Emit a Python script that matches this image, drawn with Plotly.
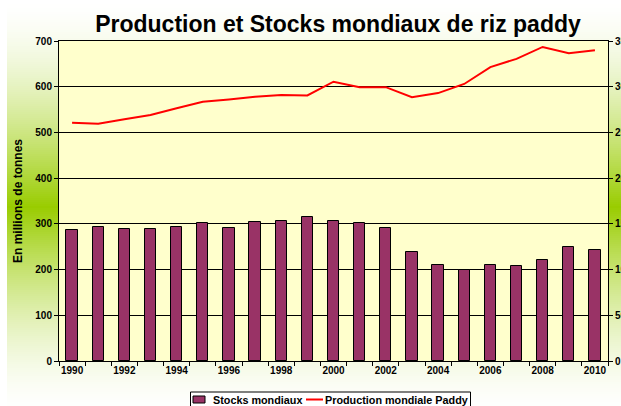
import plotly.graph_objects as go

years = list(range(1990, 2011))
stocks = [143.5, 147, 144.5, 144, 147, 151, 145, 152, 153.5, 158, 153.5,
          151, 145, 119, 105.5, 100, 105, 104, 111, 125, 121.5]
production = [521, 519, 529, 538, 553, 567, 572, 578, 582, 581, 611,
              599, 599, 577, 586, 606, 643, 661, 687, 673, 680]
x_tick_labels = ["1990", "1992", "1994", "1996", "1998", "2000",
                 "2002", "2004", "2006", "2008", "2010"]
x_tick_vals = [int(s) for s in x_tick_labels]
series_names = ["Stocks mondiaux", "Production mondiale Paddy"]

W, H = 621, 406
L, R, T, B = 59, 13, 41, 45
pw, ph = W - L - R, H - T - B

def px_to_paper_x(px):
    return (px - L) / pw

def px_to_paper_y(py):
    return (H - B - py) / ph

FONT = "Liberation Sans, Arial, sans-serif"
BAR_COLOR = "#993366"
LINE_COLOR = "#FF0000"

fig = go.Figure()
fig.add_trace(go.Bar(
    x=years, y=stocks, name=series_names[0], yaxis="y2",
    width=0.43, marker=dict(color=BAR_COLOR, line=dict(color="black", width=1)),
))
fig.add_trace(go.Scatter(
    x=years, y=production, name=series_names[1], yaxis="y",
    mode="lines", line=dict(color=LINE_COLOR, width=2),
))

# background gradient (white - green - white, vertical)
shapes = []
green = (153, 204, 0)
peak = 207.0
step = 2
for y0 in range(0, H, step):
    yc = y0 + step / 2
    t = max(0.0, 1 - abs(yc - peak) / peak)
    f = t ** 1.6
    c = tuple(int(round(255 * (1 - f) + g * f)) for g in green)
    shapes.append(dict(
        type="rect", xref="paper", yref="paper", layer="below",
        x0=px_to_paper_x(7), x1=px_to_paper_x(W + 2),
        y0=px_to_paper_y(y0 + step), y1=px_to_paper_y(y0),
        line=dict(width=0), fillcolor="rgb(%d,%d,%d)" % c,
    ))
shapes.append(dict(
    type="rect", xref="paper", yref="paper", layer="below",
    x0=0, x1=1, y0=0, y1=1, line=dict(width=0), fillcolor="#FFFFCC",
))

# legend drawn by hand (box, symbols)
shapes.append(dict(
    type="rect", xref="paper", yref="paper", layer="above",
    x0=px_to_paper_x(190.5), x1=px_to_paper_x(470.5),
    y0=px_to_paper_y(412), y1=px_to_paper_y(392),
    line=dict(color="black", width=1), fillcolor="white",
))
shapes.append(dict(
    type="rect", xref="paper", yref="paper", layer="above",
    x0=px_to_paper_x(193), x1=px_to_paper_x(205),
    y0=px_to_paper_y(403), y1=px_to_paper_y(396),
    line=dict(color="black", width=1), fillcolor=BAR_COLOR,
))
shapes.append(dict(
    type="line", xref="paper", yref="paper", layer="above",
    x0=px_to_paper_x(306), x1=px_to_paper_x(323),
    y0=px_to_paper_y(399.5), y1=px_to_paper_y(399.5),
    line=dict(color=LINE_COLOR, width=2),
))
legend_font = dict(family=FONT, size=10.8, color="black", weight="bold")
annotations = [
    dict(text=series_names[0], xref="paper", yref="paper",
         x=px_to_paper_x(211), y=px_to_paper_y(400), xanchor="left",
         yanchor="middle", showarrow=False, font=legend_font),
    dict(text=series_names[1], xref="paper", yref="paper",
         x=px_to_paper_x(323), y=px_to_paper_y(400), xanchor="left",
         yanchor="middle", showarrow=False, font=legend_font),
]

tickfont = dict(family=FONT, size=10, color="black", weight="bold")

fig.update_layout(
    width=W, height=H,
    margin=dict(l=L, r=R, t=T, b=B, autoexpand=False),
    paper_bgcolor="white",
    plot_bgcolor="rgba(0,0,0,0)",
    shapes=shapes,
    annotations=annotations,
    showlegend=False,
    title=dict(
        text="Production et Stocks mondiaux de riz paddy",
        font=dict(family=FONT, size=23, color="black", weight="bold"),
        x=338 / W, xanchor="center", y=1 - 24 / H, yanchor="middle",
    ),
    xaxis=dict(
        range=[1989.5, 2010.5], tickvals=x_tick_vals, ticktext=x_tick_labels,
        ticks="", showgrid=False, zeroline=False,
        showline=True, linecolor="black", linewidth=1, mirror=True,
        tickfont=tickfont,
        minor=dict(tick0=1989.5, dtick=1, ticks="outside", ticklen=4,
                   tickcolor="black", showgrid=False),
    ),
    yaxis=dict(
        range=[0, 700], dtick=100, ticks="outside", ticklen=4, tickcolor="black",
        showgrid=True, gridcolor="black", gridwidth=1, zeroline=False,
        showline=True, linecolor="black", linewidth=1,
        tickfont=tickfont,
        title=dict(text="En millions de tonnes", standoff=10,
                   font=dict(family=FONT, size=12, color="black", weight="bold")),
    ),
    yaxis2=dict(
        range=[0, 350], dtick=50, overlaying="y", side="right",
        ticks="outside", ticklen=4, tickcolor="black",
        showgrid=False, zeroline=False,
        showline=True, linecolor="black", linewidth=1,
        tickfont=tickfont,
    ),
    bargap=0,
)

fig.write_html(
    "out.html",
    config={"displayModeBar": False},
    post_script="document.body.style.margin='0px';document.body.style.overflow='hidden';",
)
